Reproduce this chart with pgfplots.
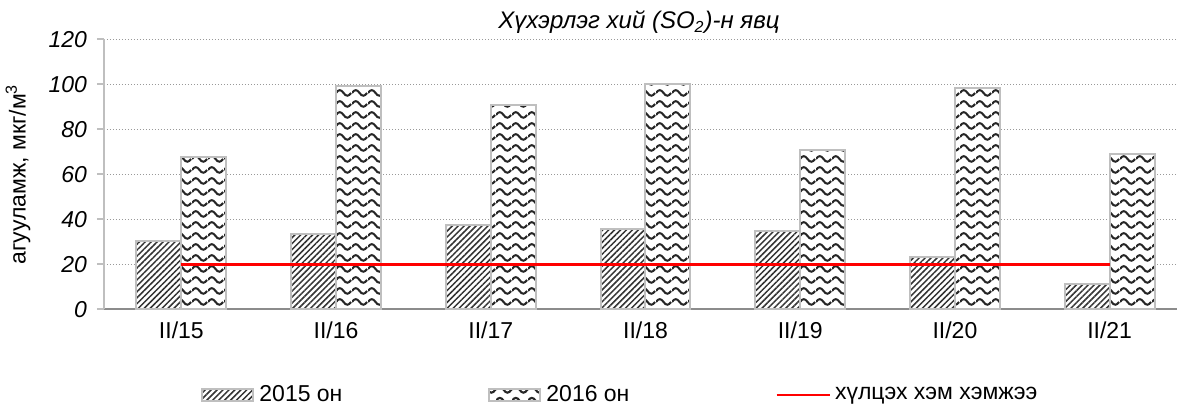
\documentclass[border=0pt]{standalone}
\usepackage{fontspec}
\setmainfont{Liberation Sans}
\usepackage{pgfplots}
\pgfplotsset{compat=1.18}
\usetikzlibrary{patterns,patterns.meta}

\pgfdeclarepatternformonly{mywaves}{\pgfqpoint{0pt}{0pt}}{\pgfqpoint{8pt}{5.5pt}}{\pgfqpoint{8pt}{5.5pt}}{%
  \pgfsetlinewidth{1.1pt}%
  \pgfpathmoveto{\pgfqpoint{0pt}{2.2pt}}%
  \pgfpathcurveto{\pgfqpoint{1.3pt}{4.2pt}}{\pgfqpoint{2.7pt}{4.2pt}}{\pgfqpoint{4pt}{2.2pt}}%
  \pgfpathcurveto{\pgfqpoint{5.3pt}{0.2pt}}{\pgfqpoint{6.7pt}{0.2pt}}{\pgfqpoint{8pt}{2.2pt}}%
  \pgfusepath{stroke}%
}

\pgfplotsset{
  mybarlegend/.style={legend image code/.code={\draw[##1] (0pt,-3pt) rectangle (25.5pt,3pt);}},
  mylinelegend/.style={legend image code/.code={\draw[##1] (0pt,0pt) -- (26.5pt,0pt);}},
}

\pgfplotstableread{
x y15 y16
0 30.3 67.6
1 33.5 99.2
2 37.4 91.0
3 35.6 100.0
4 35.0 71.0
5 23.4 98.5
6 11.3 68.9
}\sodata

\begin{document}
\fontsize{11.5}{13.8}\selectfont
\begin{tikzpicture}
\begin{axis}[
  at={(0,0)}, anchor=south west,
  scale only axis, width=541.5pt, height=135pt,
  xmin=-0.5, xmax=6.5, ymin=0, ymax=120,
  xtick={0,...,6},
  xticklabels={II/15,II/16,II/17,II/18,II/19,II/20,II/21},
  ytick={0,20,...,120},
  axis x line*=bottom, axis y line*=left,
  axis line style={-},
  x axis line style={black!45, line width=0.9pt},
  y axis line style={black!25, line width=1pt},
  tick pos=left, tick align=outside, major tick length=3.5pt,
  xtick style={draw=none},
  ytick style={black!25, line width=0.8pt},
  ymajorgrids,
  grid style={black!40, line width=0.6pt, dash pattern=on 0.6pt off 0.9pt},
  /pgf/number format/assume math mode=true,
  yticklabel style={font=\itshape, xshift=-1pt},
  xticklabel style={anchor=center, yshift=-7pt},
  title={Хүхэрлэг хий (SO\textsubscript{2})-н явц},
  title style={at={(axis description cs:0.494,1)}, anchor=center, yshift=2.6pt, font=\fontsize{12}{14}\selectfont\itshape},
  ylabel={агууламж, мкг/м\textsuperscript{3}},
  ylabel style={at={(axis description cs:-0.0794,0.5)}, anchor=center},
  legend columns=3,
  legend cell align=left,
  legend style={draw=none, fill=none, at={(0.0896,-0.318)}, anchor=west,
    inner sep=0pt, column sep=0pt, nodes={inner sep=0pt}},
]
\addplot[ybar, bar width=0.29, bar shift=-0.145,
  fill=white, draw=black!25, line width=1pt,
  postaction={pattern={Lines[angle=45,distance=2.1pt,line width=0.75pt]}, pattern color=black!80},
  mybarlegend]
  table[x=x, y=y15] {\sodata};
\addlegendentry{\makebox[117pt][l]{\hspace{2.5pt}2015 он}}
\addplot[ybar, bar width=0.29, bar shift=0.145,
  fill=white, draw=black!25, line width=1pt,
  postaction={pattern=mywaves, pattern color=black!85},
  mybarlegend]
  table[x=x, y=y16] {\sodata};
\addlegendentry{\makebox[117pt][l]{\hspace{2.5pt}2016 он}}
\addplot[red, line width=1.3pt, sharp plot, no marks, mylinelegend]
  coordinates {(0,20) (6,20)};
\addlegendentry{\hspace{2pt}хүлцэх хэм хэмжээ}
\end{axis}
\pgfresetboundingbox
\useasboundingbox (-52pt,-47.85pt) rectangle (536.5pt,154.65pt);
\end{tikzpicture}
\end{document}
